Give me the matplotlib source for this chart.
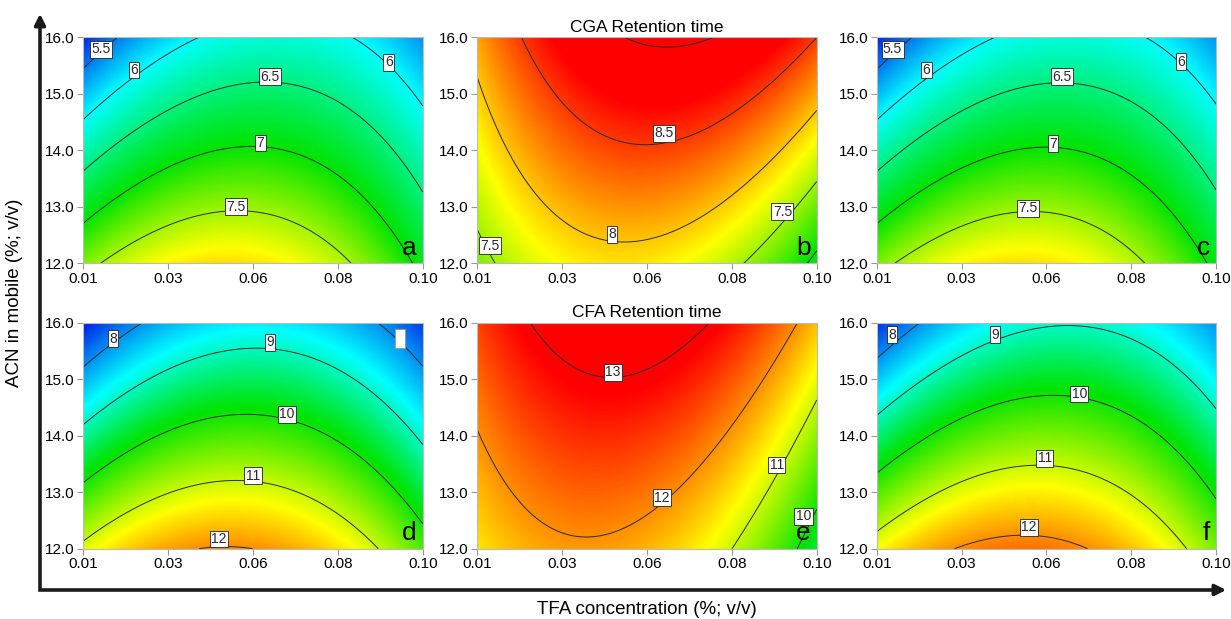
import numpy as np
import matplotlib
matplotlib.use('Agg')
import matplotlib.pyplot as plt
from matplotlib.colors import LinearSegmentedColormap, Normalize
from matplotlib.lines import Line2D
from matplotlib.patches import FancyArrowPatch

plt.rcParams['font.family'] = ['Liberation Sans', 'DejaVu Sans']

tfa_read = [0.01, 0.055, 0.10]
acn_read = [12.0, 14.0, 16.0]

# retention time (min), rows = ACN 12/14/16, cols = TFA 0.01/0.055/0.10
cga_a = [[7.38, 7.89, 6.90], [6.30, 7.03, 6.26], [5.19, 6.14, 5.59]]
cga_b = [[7.38, 7.87, 6.91], [7.77, 8.47, 7.72], [8.12, 9.04, 8.50]]
cga_c = [[7.37, 7.89, 6.91], [6.30, 7.02, 6.27], [5.18, 6.13, 5.60]]
cfa_d = [[11.13, 12.00, 10.31], [9.19, 10.32, 8.89], [7.23, 8.61, 7.44]]
cfa_e = [[11.44, 11.76, 9.63], [11.97, 12.55, 10.68], [12.48, 13.31, 11.69]]
cfa_f = [[11.29, 12.16, 10.54], [9.35, 10.58, 9.30], [7.36, 8.94, 8.01]]

cga_levels = [5.5, 6, 6.5, 7, 7.5, 8, 8.5, 9]
cfa_levels = [8, 9, 10, 11, 12, 13]

# colour ramp anchors (retention time at blue, cyan, green, yellow, red)
ramp_colors = ['#0028e6', '#00ffff', '#00e400', '#ffff00', '#ff0000']
cga_stops = [5.2, 6.0, 7.0, 7.8, 8.7]
cfa_stops = [7.3, 8.7, 9.9, 11.3, 12.9]

# contour label positions (TFA, ACN)
lab_a = [(0.0147, 15.79), (0.0235, 15.42), (0.0595, 15.3), (0.057, 14.13), (0.0505, 13.0), (0.091, 15.56)]
lab_b = [(0.0594, 14.3), (0.0457, 12.51), (0.0133, 12.31), (0.0909, 12.91)]
lab_c = [(0.0142, 15.79), (0.0232, 15.42), (0.0592, 15.3), (0.0568, 14.12), (0.050, 12.97), (0.0907, 15.57)]
lab_d = [(0.0179, 15.72), (0.0595, 15.65), (0.064, 14.38), (0.055, 13.29), (0.046, 12.17)]
lab_e = [(0.0459, 15.12), (0.059, 12.9), (0.0894, 13.48), (0.0965, 12.57)]
lab_f = [(0.0141, 15.79), (0.0414, 15.79), (0.0637, 14.74), (0.0546, 13.6), (0.0504, 12.38)]

tfa_ticks = ['0.01', '0.03', '0.06', '0.08', '0.10']
acn_ticks = [12.0, 13.0, 14.0, 15.0, 16.0]


def make_cmap(stops, name):
    pos = [(s - stops[0]) / (stops[-1] - stops[0]) for s in stops]
    return LinearSegmentedColormap.from_list(name, list(zip(pos, ramp_colors))), Normalize(stops[0], stops[-1])


def terms(x, y):
    u = (np.asarray(x) - 0.01) / 0.09
    v = (np.asarray(y) - 12.0) / 4.0
    return np.stack([np.ones_like(u), u, v, u * u, v * v, u * v], -1)


def surface(vals, X, Y):
    # second order response surface through the read values
    xs, ys = np.meshgrid(tfa_read, acn_read)
    coef = np.linalg.lstsq(terms(xs, ys).reshape(-1, 6), np.ravel(vals), rcond=None)[0]
    return terms(X, Y) @ coef


fig = plt.figure(figsize=(12.31, 6.19), dpi=100)

W, H = 1231, 619
lefts = [83.3, 477.3, 876.7]
tops = [37.3, 322.7]
aw, ah = 339.4, 226.0

panels = [
    (cga_a, 'a', 'cga', lab_a), (cga_b, 'b', 'cga', lab_b), (cga_c, 'c', 'cga', lab_c),
    (cfa_d, 'd', 'cfa', lab_d), (cfa_e, 'e', 'cfa', lab_e), (cfa_f, 'f', 'cfa', lab_f),
]
cmaps = {'cga': make_cmap(cga_stops, 'cga'), 'cfa': make_cmap(cfa_stops, 'cfa')}
levels = {'cga': cga_levels, 'cfa': cfa_levels}

xg = np.linspace(0.01, 0.10, 300)
yg = np.linspace(12, 16, 300)
X, Y = np.meshgrid(xg, yg)

for i, (vals, letter, cmp, labpos) in enumerate(panels):
    r, c = divmod(i, 3)
    ax = fig.add_axes([lefts[c] / W, 1 - (tops[r] + ah) / H, aw / W, ah / H])
    Z = surface(vals, X, Y)
    cmap, norm = cmaps[cmp]
    ax.imshow(Z, extent=[0.01, 0.10, 12, 16], origin='lower', aspect='auto',
              cmap=cmap, norm=norm, interpolation='bilinear')
    lv = [l for l in levels[cmp] if Z.min() < l < Z.max()]
    cs = ax.contour(X, Y, Z, levels=lv, colors='#2a2a2a', linewidths=0.7)
    ax.clabel(cs, manual=labpos, inline=False, fontsize=10, fmt='%g')
    for t, p in zip(cs.labelTexts, labpos):
        t.set_position(p)
        t.set_rotation(0)
        t.set_bbox(dict(boxstyle='square,pad=0.1', fc='white', ec='#222222', lw=0.6))
    if letter == 'd':
        ax.text(0.094, 15.72, ' ', fontsize=10, ha='center', va='center',
                bbox=dict(boxstyle='square,pad=0.2', fc='white', ec='#999999', lw=0.6))

    ax.set_xlim(0.01, 0.10)
    ax.set_ylim(12, 16)
    ax.set_xticks(np.linspace(0.01, 0.10, 5))
    ax.set_xticklabels(tfa_ticks)
    ax.set_yticks(acn_ticks)
    ax.set_yticklabels(['%.1f' % a for a in acn_ticks])
    ax.tick_params(direction='out', length=4, width=0.8, color='#999999',
                   labelsize=11, pad=2)
    for s in ax.spines.values():
        s.set_color('#bbbbbb')
        s.set_linewidth(0.8)
    ax.text(0.983, 0.015, letter, transform=ax.transAxes, ha='right', va='bottom',
            fontsize=19)
    if c == 1:
        ax.set_title('CGA Retention time' if r == 0 else 'CFA Retention time',
                     fontsize=12.5, pad=4)

# axis arrows
x0, y0 = 40 / W, 1 - 590 / H
x1, y1 = 1229 / W, 1 - 11 / H
fig.add_artist(Line2D([x0, x0, x1 - 0.008], [y1 - 0.018, y0, y0], transform=fig.transFigure,
                      color='#1a1a1a', lw=2.6, solid_joinstyle='miter'))
fig.add_artist(FancyArrowPatch((x0, y1 - 0.03), (x0, y1), transform=fig.transFigure,
                               arrowstyle='-|>', mutation_scale=16, color='#1a1a1a', lw=2.6))
fig.add_artist(FancyArrowPatch((x1 - 0.015, y0), (x1, y0), transform=fig.transFigure,
                               arrowstyle='-|>', mutation_scale=16, color='#1a1a1a', lw=2.6))

fig.text(15 / W, 1 - 293 / H, 'ACN in mobile (%; v/v)', rotation=90, ha='center',
         va='center', fontsize=13.5)
fig.text(647 / W, 1 - 610 / H, 'TFA concentration (%; v/v)', ha='center', va='center',
         fontsize=13.5)

fig.savefig('out.png', dpi=100)
